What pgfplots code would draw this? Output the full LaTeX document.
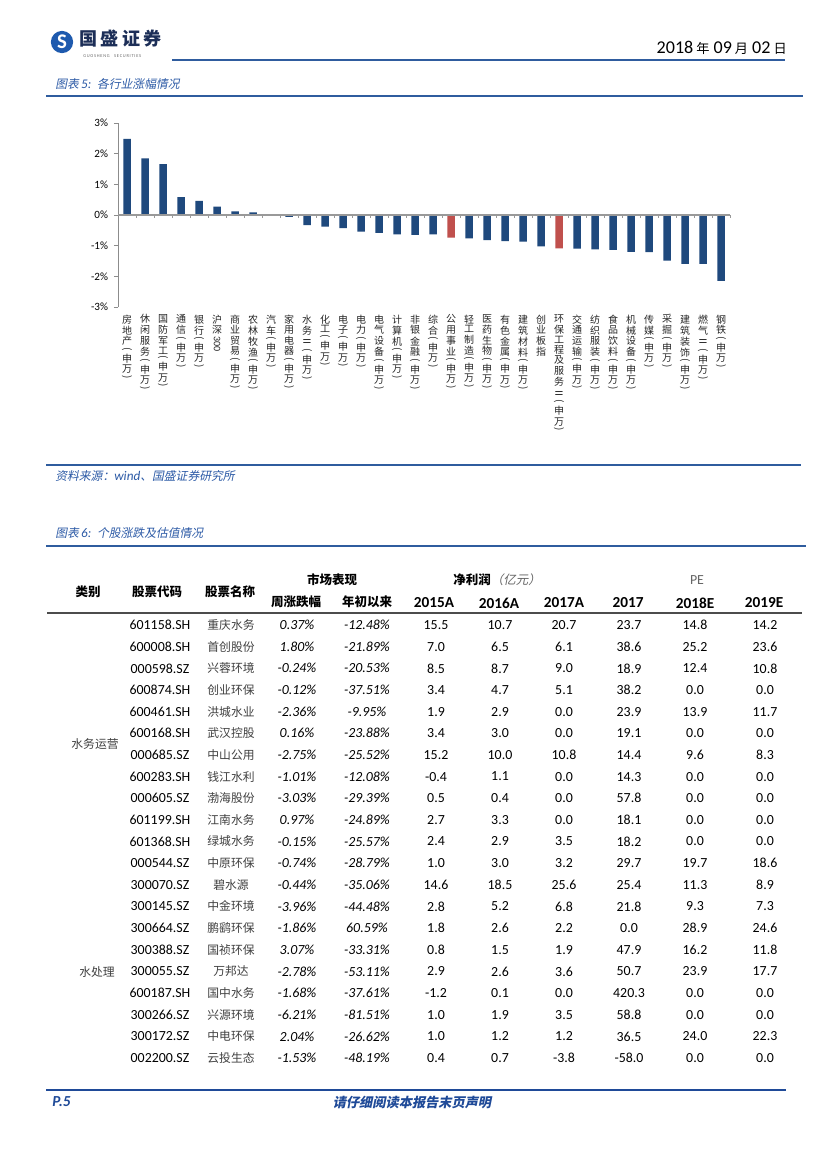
\documentclass[border=0pt]{standalone}
\usepackage{fontspec}
\usepackage{graphicx}
\usepackage{pgfplots}
\pgfplotsset{compat=1.18}
\setmainfont{Carlito}
\newfontfamily\lat{Carlito}
\newfontfamily\cjk{Noto Sans CJK SC}
\newfontfamily\cjki[FakeSlant=0.2]{Noto Sans CJK SC}
\definecolor{lineblue}{HTML}{2F5C9E}
\definecolor{capblue}{HTML}{2C5AA6}
\definecolor{barblue}{HTML}{1F497D}
\definecolor{barred}{HTML}{C0504D}
\definecolor{navy}{HTML}{1C2E57}
\definecolor{footblue}{HTML}{1F4A98}
\definecolor{logoblue}{HTML}{1E5AAE}
\protected\def\rp#1{\rotatebox[origin=c]{-90}{#1}}
\protected\def\vt#1{\vbox{\baselineskip=-1pt\lineskip=1.3pt\lineskiplimit=0pt\halign{\hfil##\hfil\cr#1\crcr}}}
\protected\def\SW{\cr\rp{(}\cr 申\cr 万\cr\rp{)}}
\newcount\ri
\ri=0
\newcommand\trow[5]{\def\tA{#1}\def\tB{#2}\def\tC{#3}\def\tD{#4}\def\tE{#5}\trowb}
\newcommand\trowb[5]{%
  \pgfmathsetmacro\yy{625+21.65*\the\ri}%
  \node[font=\lat\fontsize{10}{12}\selectfont] at (160,\yy) {\tA};
  \node[font=\cjk\fontsize{8.5}{10}\selectfont, text=black!75] at (231,\yy) {\tB};
  \node[font=\lat\itshape\fontsize{10}{12}\selectfont] at (297,\yy) {\tC\%};
  \node[font=\lat\itshape\fontsize{10}{12}\selectfont] at (367,\yy) {\tD\%};
  \node[font=\lat\fontsize{10}{12}\selectfont] at (436,\yy) {\tE};
  \node[font=\lat\fontsize{10}{12}\selectfont] at (500,\yy) {#1};
  \node[font=\lat\fontsize{10}{12}\selectfont] at (564,\yy) {#2};
  \node[font=\lat\fontsize{10}{12}\selectfont] at (629,\yy) {#3};
  \node[font=\lat\fontsize{10}{12}\selectfont] at (695,\yy) {#4};
  \node[font=\lat\fontsize{10}{12}\selectfont] at (765,\yy) {#5};
  \global\advance\ri by 1\relax}
\begin{document}
\begin{tikzpicture}
\fill[white] (0,0) rectangle (595.44pt,-841.68pt);
\path[use as bounding box] (0,0) rectangle (595.44pt,-841.68pt);
\begin{scope}[x=0.72pt,y=-0.72pt, every node/.style={inner sep=0pt}]
% header
\fill[logoblue] (62,42) circle (8pt);
\node[font=\lat\bfseries\fontsize{15}{15}\selectfont, text=white] at (62,42) {S};
\node[anchor=west, font=\cjk\bfseries\fontsize{13}{13}\selectfont, text=navy] at (79,39) {国\hspace{2.5pt}盛\hspace{2.5pt}证\hspace{2.5pt}券};
\node[anchor=west, font=\lat\fontsize{3.2}{3.5}\selectfont, text=black!60] at (83,56) {G\,U\,O\,S\,H\,E\,N\,G\quad S\,E\,C\,U\,R\,I\,T\,I\,E\,S};
\node[anchor=east] at (787,48) {\lat\fontsize{13}{14}\selectfont 2018\,{\cjk\fontsize{9.5}{11}\selectfont 年} 09\,{\cjk\fontsize{9.5}{11}\selectfont 月} 02\,{\cjk\fontsize{9.5}{11}\selectfont 日}};
\draw[lineblue, line width=1.7pt] (172,60) -- (785,60);
\node[anchor=west, text=capblue] at (55,84) {\cjki\fontsize{8.5}{10}\selectfont 图表{\lat\itshape\fontsize{9.5}{10}\selectfont\,5:\,} 各行业涨幅情况};
\draw[lineblue, line width=1.7pt] (46,96) -- (803,96);
% chart footer
\draw[lineblue, line width=1.7pt] (46,465) -- (801,465);
\node[anchor=west, text=capblue] at (55,476) {\cjki\fontsize{8.5}{10}\selectfont 资料来源：{\lat\itshape\fontsize{9.5}{10}\selectfont wind}、国盛证券研究所};
% table caption
\node[anchor=west, text=capblue] at (55,533) {\cjki\fontsize{8.5}{10}\selectfont 图表{\lat\itshape\fontsize{9.5}{10}\selectfont\,6:\,} 个股涨跌及估值情况};
\draw[lineblue, line width=1.7pt] (46,546) -- (806,546);
% table header
\begin{scope}[every node/.append style={font=\cjk\bfseries\fontsize{9}{11}\selectfont}]
\node at (88,592) {类别};
\node at (157,592) {股票代码};
\node at (230,592) {股票名称};
\node at (332,580) {市场表现};
\node at (497,580) {净利润{\cjki\mdseries\color{black!60}（亿元）}};
\node[font=\lat\fontsize{10}{11}\selectfont, text=black!60] at (697,580) {PE};
\node at (296,602) {周涨跌幅};
\node at (367,602) {年初以来};
\end{scope}
\begin{scope}[every node/.append style={font=\lat\bfseries\fontsize{11}{12}\selectfont}]
\node at (434,603) {2015A};
\node at (499,603) {2016A};
\node at (564,603) {2017A};
\node at (628,603) {2017};
\node at (695,603) {2018E};
\node at (764,603) {2019E};
\end{scope}
\draw[black!70, line width=1pt] (47,613) -- (802,613);
% table body
\trow{601158.SH}{重庆水务}{0.37}{-12.48}{15.5}{10.7}{20.7}{23.7}{14.8}{14.2}
\trow{600008.SH}{首创股份}{1.80}{-21.89}{7.0}{6.5}{6.1}{38.6}{25.2}{23.6}
\trow{000598.SZ}{兴蓉环境}{-0.24}{-20.53}{8.5}{8.7}{9.0}{18.9}{12.4}{10.8}
\trow{600874.SH}{创业环保}{-0.12}{-37.51}{3.4}{4.7}{5.1}{38.2}{0.0}{0.0}
\trow{600461.SH}{洪城水业}{-2.36}{-9.95}{1.9}{2.9}{0.0}{23.9}{13.9}{11.7}
\trow{600168.SH}{武汉控股}{0.16}{-23.88}{3.4}{3.0}{0.0}{19.1}{0.0}{0.0}
\trow{000685.SZ}{中山公用}{-2.75}{-25.52}{15.2}{10.0}{10.8}{14.4}{9.6}{8.3}
\trow{600283.SH}{钱江水利}{-1.01}{-12.08}{-0.4}{1.1}{0.0}{14.3}{0.0}{0.0}
\trow{000605.SZ}{渤海股份}{-3.03}{-29.39}{0.5}{0.4}{0.0}{57.8}{0.0}{0.0}
\trow{601199.SH}{江南水务}{0.97}{-24.89}{2.7}{3.3}{0.0}{18.1}{0.0}{0.0}
\trow{601368.SH}{绿城水务}{-0.15}{-25.57}{2.4}{2.9}{3.5}{18.2}{0.0}{0.0}
\trow{000544.SZ}{中原环保}{-0.74}{-28.79}{1.0}{3.0}{3.2}{29.7}{19.7}{18.6}
\trow{300070.SZ}{碧水源}{-0.44}{-35.06}{14.6}{18.5}{25.6}{25.4}{11.3}{8.9}
\trow{300145.SZ}{中金环境}{-3.96}{-44.48}{2.8}{5.2}{6.8}{21.8}{9.3}{7.3}
\trow{300664.SZ}{鹏鹞环保}{-1.86}{60.59}{1.8}{2.6}{2.2}{0.0}{28.9}{24.6}
\trow{300388.SZ}{国祯环保}{3.07}{-33.31}{0.8}{1.5}{1.9}{47.9}{16.2}{11.8}
\trow{300055.SZ}{万邦达}{-2.78}{-53.11}{2.9}{2.6}{3.6}{50.7}{23.9}{17.7}
\trow{600187.SH}{国中水务}{-1.68}{-37.61}{-1.2}{0.1}{0.0}{420.3}{0.0}{0.0}
\trow{300266.SZ}{兴源环境}{-6.21}{-81.51}{1.0}{1.9}{3.5}{58.8}{0.0}{0.0}
\trow{300172.SZ}{中电环保}{2.04}{-26.62}{1.0}{1.2}{1.2}{36.5}{24.0}{22.3}
\trow{002200.SZ}{云投生态}{-1.53}{-48.19}{0.4}{0.7}{-3.8}{-58.0}{0.0}{0.0}
\node[font=\cjk\fontsize{8.5}{10}\selectfont, text=black!75] at (95,744) {水务运营};
\node[font=\cjk\fontsize{8.5}{10}\selectfont, text=black!75] at (97,972) {水处理};
% footer
\draw[footblue, line width=2pt] (46,1090) -- (786,1090);
\node[anchor=west, font=\lat\bfseries\itshape\fontsize{11}{12}\selectfont, text=footblue] at (52,1102) {P.5};
\node[font=\cjki\bfseries\fontsize{9.5}{11}\selectfont, text=footblue] at (412,1102) {请仔细阅读本报告末页声明};
\end{scope}
\begin{axis}[
  at={(84.96pt,-221.04pt)}, anchor=south west, scale only axis,
  width=440.64pt, height=132.48pt,
  xmin=-0.5, xmax=33.5, ymin=-3, ymax=3,
  axis y line*=left, axis x line*=bottom,
  x axis line style={draw=none},
  y axis line style={draw=black!45, line width=0.6pt},
  ytick={-3,-2,-1,0,1,2,3},
  yticklabel={\pgfmathprintnumber{\tick}\%},
  yticklabel style={font=\lat\fontsize{8}{9}\selectfont, /pgf/number format/assume math mode=true, inner sep=0pt, xshift=-4pt},
  ytick style={draw=black!45, line width=0.6pt},
  tick align=outside, major tick length=3pt,
  xtick={0,...,33}, xtick style={draw=none},
  xticklabel style={anchor=north, font=\cjk\fontsize{7.2}{8}\selectfont, inner sep=0pt, yshift=-2.3pt, text=black!85},
  xticklabels={
\vt{房\cr 地\cr 产\SW},
\vt{休\cr 闲\cr 服\cr 务\SW},
\vt{国\cr 防\cr 军\cr 工\SW},
\vt{通\cr 信\SW},
\vt{银\cr 行\SW},
\vt{沪\cr 深\cr\rp{\lat 300}},
\vt{商\cr 业\cr 贸\cr 易\SW},
\vt{农\cr 林\cr 牧\cr 渔\SW},
\vt{汽\cr 车\SW},
\vt{家\cr 用\cr 电\cr 器\SW},
\vt{水\cr 务\cr\rp{Ⅱ}\SW},
\vt{化\cr 工\SW},
\vt{电\cr 子\SW},
\vt{电\cr 力\SW},
\vt{电\cr 气\cr 设\cr 备\SW},
\vt{计\cr 算\cr 机\SW},
\vt{非\cr 银\cr 金\cr 融\SW},
\vt{综\cr 合\SW},
\vt{公\cr 用\cr 事\cr 业\SW},
\vt{轻\cr 工\cr 制\cr 造\SW},
\vt{医\cr 药\cr 生\cr 物\SW},
\vt{有\cr 色\cr 金\cr 属\SW},
\vt{建\cr 筑\cr 材\cr 料\SW},
\vt{创\cr 业\cr 板\cr 指},
\vt{环\cr 保\cr 工\cr 程\cr 及\cr 服\cr 务\cr\rp{Ⅱ}\SW},
\vt{交\cr 通\cr 运\cr 输\SW},
\vt{纺\cr 织\cr 服\cr 装\SW},
\vt{食\cr 品\cr 饮\cr 料\SW},
\vt{机\cr 械\cr 设\cr 备\SW},
\vt{传\cr 媒\SW},
\vt{采\cr 掘\SW},
\vt{建\cr 筑\cr 装\cr 饰\SW},
\vt{燃\cr 气\cr\rp{Ⅱ}\SW},
\vt{钢\cr 铁\SW}},
  clip=false,
]
\addplot[ybar, bar width=5.4pt, bar shift=0pt, fill=barblue, draw=none] coordinates {
(0,2.48) (1,1.85) (2,1.66) (3,0.58) (4,0.46) (5,0.27) (6,0.12) (7,0.09)
(8,-0.02) (9,-0.06) (10,-0.33) (11,-0.38) (12,-0.43) (13,-0.54) (14,-0.58)
(15,-0.63) (16,-0.65) (17,-0.63) (19,-0.76) (20,-0.82) (21,-0.85) (22,-0.87)
(23,-1.02) (25,-1.10) (26,-1.12) (27,-1.14) (28,-1.20) (29,-1.21) (30,-1.49)
(31,-1.59) (32,-1.59) (33,-2.15)};
\addplot[ybar, bar width=5.4pt, bar shift=0pt, fill=barred, draw=none] coordinates {(18,-0.74) (24,-1.09)};
\draw[black!40, line width=0.8pt] (axis cs:-0.5,0) -- (axis cs:33.5,0);
\pgfplotsinvokeforeach{0,...,33}{\draw[black!40, line width=0.6pt] (axis cs:#1.5,0) -- ++(0pt,-2.5pt);}
\end{axis}
\end{tikzpicture}
\end{document}
